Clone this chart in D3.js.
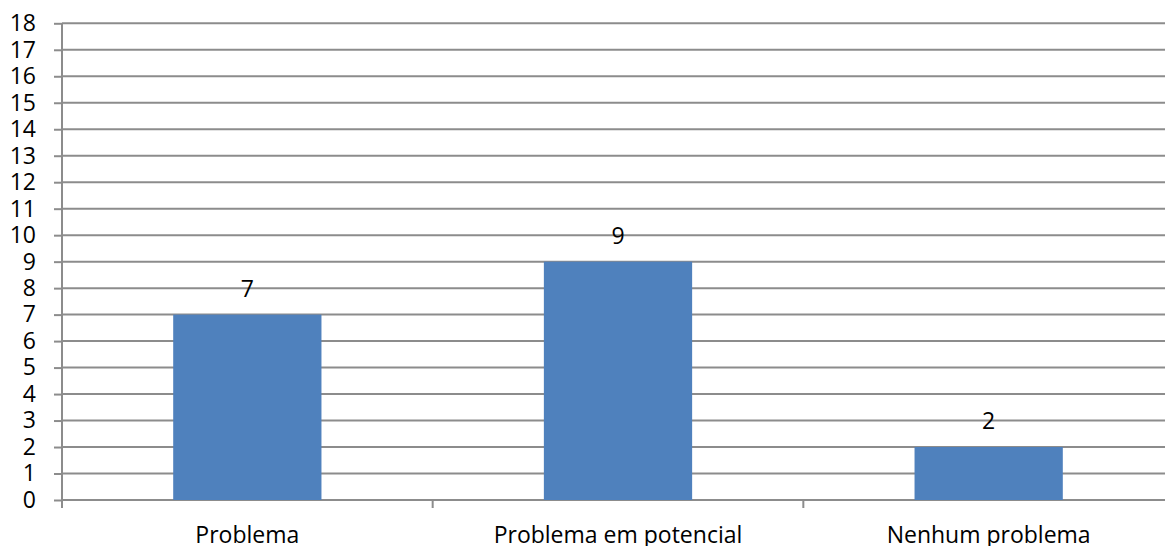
<!DOCTYPE html>
<html>
<head>
<meta charset="utf-8">
<script src="https://cdn.jsdelivr.net/npm/d3@7"></script>
<style>
  html, body { margin: 0; padding: 0; background: #fff; }
  svg { display: block; }
  text { font-family: "Open Sans", "Noto Sans", sans-serif; fill: #000; }
</style>
</head>
<body>
<svg id="chart" width="1165" height="546"></svg>
<script>
// Survey answers and their counts
const categories = ["Problema", "Problema em potencial", "Nenhum problema"];
const counts = [7, 9, 2];
const yTicks = d3.range(0, 19);

(function drawChart() {
  const svg = d3.select("#chart");
  const plotLeft = 62, plotRight = 1174, plotTop = 23.3, plotBottom = 500;
  const gridColor = "#8c8c8c";
  const barColor = "#4f81bd";
  const fontSize = 23;

  const x = d3.scaleBand().domain(categories).range([plotLeft, plotRight]).paddingInner(0).paddingOuter(0);
  const y = d3.scaleLinear().domain([0, 18]).range([plotBottom, plotTop]);

  // Horizontal gridlines
  svg.append("g").selectAll("line").data(yTicks).join("line")
    .attr("x1", plotLeft).attr("x2", plotRight)
    .attr("y1", d => y(d)).attr("y2", d => y(d))
    .attr("stroke", gridColor).attr("stroke-width", 2);

  // Y axis
  const yAxis = svg.append("g").attr("transform", `translate(${plotLeft},0)`)
    .call(d3.axisLeft(y).tickValues(yTicks).tickSize(8).tickPadding(18).tickFormat(d3.format("d")));
  yAxis.select(".domain").attr("stroke", gridColor).attr("stroke-width", 2)
    .attr("d", `M0,${plotTop}V${plotBottom + 8}`);
  yAxis.selectAll(".tick line").attr("stroke", gridColor).attr("stroke-width", 2);
  yAxis.selectAll(".tick text").attr("font-size", fontSize).attr("font-family", "Open Sans").attr("fill", "#000");

  // X axis ticks at band boundaries
  const boundaries = [plotLeft, ...categories.map(c => x(c) + x.bandwidth())];
  svg.append("g").selectAll("line").data(boundaries).join("line")
    .attr("x1", d => d).attr("x2", d => d)
    .attr("y1", plotBottom).attr("y2", plotBottom + 8)
    .attr("stroke", gridColor).attr("stroke-width", 2);

  svg.append("g").selectAll("text").data(categories).join("text")
    .attr("x", d => x(d) + x.bandwidth() / 2)
    .attr("y", 543)
    .attr("text-anchor", "middle")
    .attr("font-size", fontSize)
    .text(d => d);

  // Bars
  const barW = x.bandwidth() * 0.4;
  svg.append("g").selectAll("rect").data(counts).join("rect")
    .attr("x", (d, i) => x(categories[i]) + (x.bandwidth() - barW) / 2)
    .attr("width", barW)
    .attr("y", d => y(d))
    .attr("height", d => y(0) - y(d))
    .attr("fill", barColor);

  // Value labels
  svg.append("g").selectAll("text").data(counts).join("text")
    .attr("x", (d, i) => x(categories[i]) + x.bandwidth() / 2)
    .attr("y", d => y(d) - 18)
    .attr("text-anchor", "middle")
    .attr("font-size", fontSize)
    .text(d => d);
})();
</script>
</body>
</html>
